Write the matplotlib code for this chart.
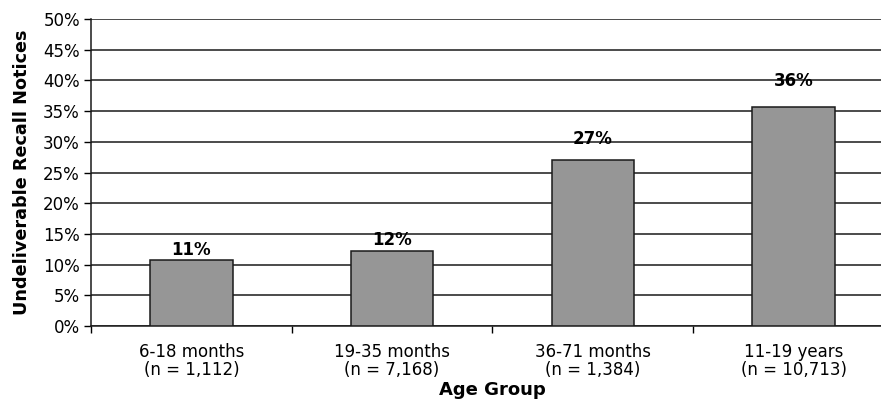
import numpy as np
import matplotlib.pyplot as plt
from matplotlib.ticker import MultipleLocator, FuncFormatter

plt.rcParams['font.family'] = ['DejaVu Sans']

# age groups, sample sizes and share of undeliverable notices (%)
groups = ['6-18 months', '19-35 months', '36-71 months', '11-19 years']
sizes = ['1,112', '7,168', '1,384', '10,713']
share = [10.7, 12.2, 27.1, 35.7]

fig = plt.figure(figsize=(8.81, 4.04), dpi=100)
# the plot area runs a little past the right edge of the figure
ax = fig.add_axes([91/881, 1-326/404, (894-91)/881, (326-19)/404])

x = np.arange(len(groups))
bars = ax.bar(x, share, width=0.41, color='#969696', edgecolor='#1a1a1a', lw=1.1, zorder=3)

# percentage labels float higher above the taller bars
for xi, v in zip(x, share):
    ax.text(xi, v * 1.1 - 0.87, f'{v:.0f}%', ha='center', va='bottom',
            fontsize=12, fontweight='bold', zorder=4)

ax.set_xlim(-0.5, len(groups) - 0.5)
ax.set_ylim(0, 50)
ax.yaxis.set_major_locator(MultipleLocator(5))
ax.yaxis.set_major_formatter(FuncFormatter(lambda v, p: f'{v:.0f}%'))
ax.yaxis.grid(True, color='#1a1a1a', lw=1.1, zorder=0)
ax.set_axisbelow(True)

# ticks between categories, labels under each bar
ax.set_xticks(np.arange(len(groups) + 1) - 0.5)
ax.set_xticklabels([])
ax.set_xticks(x, minor=True)
ax.set_xticklabels([f'{g}\n(n = {n})' for g, n in zip(groups, sizes)],
                   minor=True, fontsize=12, linespacing=1.0)
ax.tick_params(axis='x', which='minor', length=0, pad=12)
ax.tick_params(axis='x', which='major', length=5, width=1, direction='out')
ax.tick_params(axis='y', length=5, width=1, labelsize=12, pad=3)

for s in ['top', 'right']:
    ax.spines[s].set_visible(False)
for s in ['left', 'bottom']:
    ax.spines[s].set_linewidth(1.1)
    ax.spines[s].set_color('#1a1a1a')

ax.set_ylabel('Undeliverable Recall Notices', fontsize=12.7, fontweight='bold', labelpad=9)
ax.set_xlabel('Age Group', fontsize=13, fontweight='bold', labelpad=2)

fig.savefig('out.png', dpi=100)
